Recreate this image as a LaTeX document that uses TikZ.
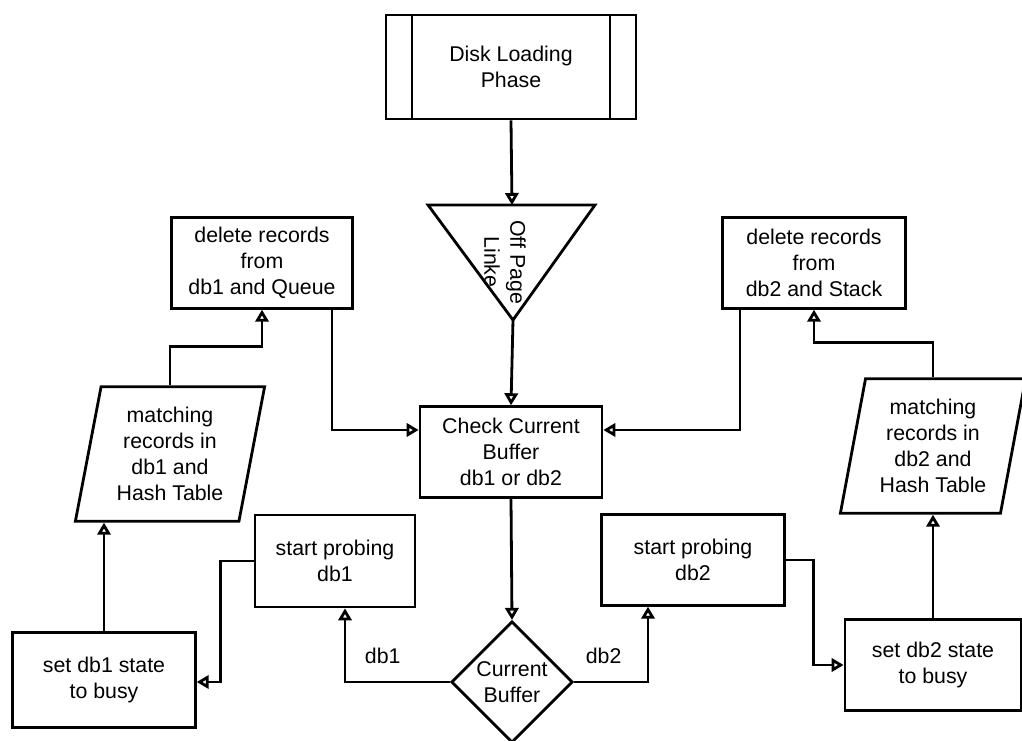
\documentclass[tikz,border=0pt]{standalone}
\usepackage{fontspec}
\setmainfont{Liberation Sans}
\usetikzlibrary{arrows.meta,positioning,shapes.geometric}

\begin{document}
\begin{tikzpicture}[x=0.75pt,y=-0.75pt,
    line width=2.1pt,
    font=\fontsize{16}{19.5}\selectfont,
    box/.style={rectangle,draw,align=center,inner sep=2pt},
    para/.style={trapezium,draw,align=center,trapezium stretches=true,
      trapezium left angle=78,trapezium right angle=102,inner sep=0pt},
    arr/.style={-{Triangle[open,length=9pt,width=10pt]}}]
      \useasboundingbox (0,0) rectangle (1022,741);

      % Top: loading phase and off-page link
      \node[box,minimum width=187.5pt,minimum height=78pt] (disk) at (511,67) {Disk Loading\\Phase};
      \draw ([xshift=20.5pt]disk.north west) -- ([xshift=20.5pt]disk.south west);
      \draw ([xshift=-20.5pt]disk.north east) -- ([xshift=-20.5pt]disk.south east);

      \coordinate (tritop) at (512,205);
      \coordinate (tribot) at (513,320);
      \draw (428,205) -- (595,205) -- (tribot) -- cycle;
      \node[rotate=-90,align=center] (offpage) at (505,262) {Off Page\\Linke};

      \draw[arr] (disk.south) -- (tritop);

      % Middle: buffer check and decision
      \node[box,minimum width=136.5pt,minimum height=68pt] (check) at (511,452) {Check Current\\Buffer\\db1 or db2};
      \node[diamond,draw,align=center,inner sep=-5pt,minimum width=91pt,minimum height=91pt] (dia) at (512,682) {Current\\Buffer};

      \draw[arr] (tribot) -- (check.north);
      \draw[arr] (check.south) -- (dia.north);

      % Left: db1 branch
      \node[box,minimum width=120pt,minimum height=69pt] (probe1) at (335,561) {start probing\\db1};
      \node[box,minimum width=137pt,minimum height=71pt] (set1) at (104,680) {set db1 state\\to busy};
      \node[para,minimum width=142pt,minimum height=101pt] (match1) at (170,454) {matching\\records in\\db1 and\\Hash Table};
      \node[box,minimum width=136pt,minimum height=68pt] (del1) at (262,263) {delete records\\from\\db1 and Queue};

      \draw[arr] (dia.west) -| node[pos=0.32,above=9pt]{db1} ([shift={(10,0)}]probe1.south);
      \draw[arr] (probe1.west) -- ++(-33,0) |- ([shift={(0,2)}]set1.east);
      \draw[arr] (set1.north) -- (set1.north |- match1.south);
      \draw[arr] (match1.north) -- ++(0,-39) -| (del1.south);
      \draw[arr] ([shift={(70,0)}]del1.south) |- ([shift={(0,-22)}]check.west);

      % Right: db2 branch
      \node[box,minimum width=137pt,minimum height=68pt] (probe2) at (693,560) {start probing\\db2};
      \node[box,minimum width=132pt,minimum height=68pt] (set2) at (933,665) {set db2 state\\to busy};
      \node[para,minimum width=139pt,minimum height=101pt] (match2) at (933,446) {matching\\records in\\db2 and\\Hash Table};
      \node[box,minimum width=137pt,minimum height=68pt] (del2) at (814,263) {delete records\\from\\db2 and Stack};

      \draw[arr] (dia.east) -| node[pos=0.2,above=9pt]{db2} ([shift={(-45,0)}]probe2.south);
      \draw[arr] (probe2.east) -- ++(28,0) |- (set2.west);
      \draw[arr] (set2.north) -- (set2.north |- match2.south);
      \draw[arr] (match2.north) -- ++(0,-35) -| (del2.south);
      \draw[arr] ([shift={(-74,0)}]del2.south) |- ([shift={(0,-22)}]check.east);

    \end{tikzpicture}
\end{document}
